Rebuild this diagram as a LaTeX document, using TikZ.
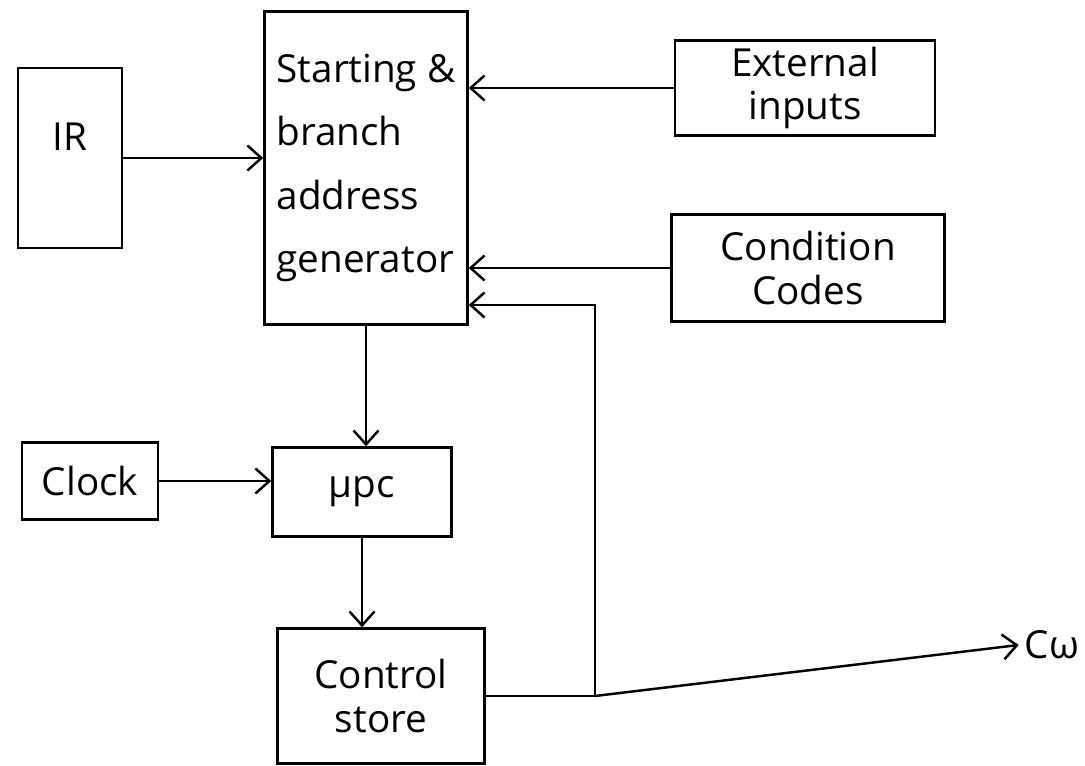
\documentclass[tikz,border=0pt]{standalone}
\usepackage{fontspec}
\setmainfont{Open Sans}
\usepackage{tikz}
\usetikzlibrary{arrows.meta}

\begin{document}
\begin{tikzpicture}[
  x=0.02cm, y=-0.02cm,
  font=\fontsize{22}{36}\selectfont,
  blk/.style={rectangle, draw, line width=1.4pt, inner sep=0pt},
  tight/.style={font=\fontsize{22}{25}\selectfont},
  arr/.style={-{Straight Barb[length=2.8mm, width=5mm, line width=1.4pt]}, line width=1.4pt}
]
  \useasboundingbox[fill=white] (0,0) rectangle (1085,766);

  \node[blk, minimum width=2.08cm, minimum height=3.6cm,
        label={[anchor=center, yshift=-1.4cm]north:IR}] (ir) at (70,158) {};
  \node[blk, minimum width=4.06cm, minimum height=6.26cm, align=left] (sbag) at (366,168)
       {Starting \&\\branch\\address\\generator};
  \node[blk, tight, minimum width=5.2cm, minimum height=1.9cm, align=center] (ext) at (805,88)
       {External\\inputs};
  \node[blk, tight, minimum width=5.46cm, minimum height=2.14cm, align=center] (cond) at (808,268)
       {Condition\\Codes};
  \node[blk, minimum width=2.72cm, minimum height=1.54cm] (clock) at (90,481) {Clock};
  \node[blk, minimum width=3.58cm, minimum height=1.78cm] (mpc) at (362,492) {μpc};
  \node[blk, tight, minimum width=4.14cm, minimum height=2.7cm, align=center] (cs) at (381,696)
       {Control\\store};
  \node (cw) at (1052,645) {Cω};

  \coordinate (split) at (595,696);
  \coordinate (fb) at (595,305);

  \draw[arr] (ir.east) -- (ir.east -| sbag.west);
  \draw[arr] (ext.west) -- (ext.west -| sbag.east);
  \draw[arr] (cond.west) -- (cond.west -| sbag.east);
  \draw[arr] (sbag.south) -- (sbag.south |- mpc.north);
  \draw[arr] (clock.east) -- (clock.east -| mpc.west);
  \draw[arr] (mpc.south) -- (mpc.south |- cs.north);
  \draw[line width=1.4pt] (cs.east |- split) -- (split);
  \draw[arr] (split) -- (cw.west);
  \draw[arr] (split) -- (fb) -- (fb -| sbag.east);
\end{tikzpicture}
\end{document}
